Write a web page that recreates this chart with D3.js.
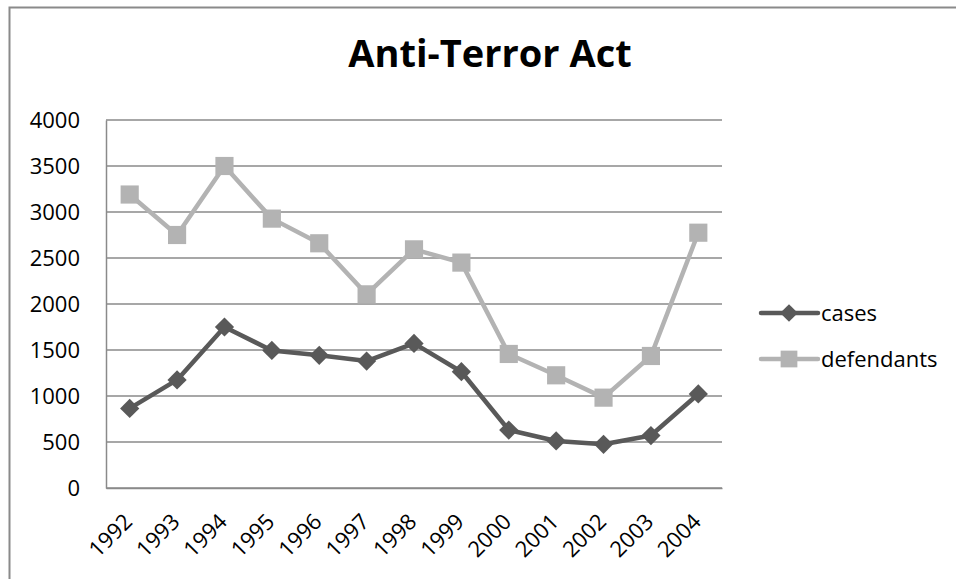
<!DOCTYPE html>
<html>
<head>
<meta charset="utf-8">
<script src="https://cdn.jsdelivr.net/npm/d3@7"></script>
<style>
  html, body { margin: 0; padding: 0; background: #fff; }
  svg { display: block; }
</style>
</head>
<body>
<svg id="chart" width="956" height="579"></svg>
<script>
const years = ["1992","1993","1994","1995","1996","1997","1998","1999","2000","2001","2002","2003","2004"];
const cases = [865, 1175, 1750, 1495, 1442, 1380, 1572, 1264, 630, 511, 475, 570, 1022];
const defendants = [3190, 2750, 3500, 2928, 2660, 2105, 2594, 2450, 1457, 1225, 982, 1435, 2775];
const yTicks = [0, 500, 1000, 1500, 2000, 2500, 3000, 3500, 4000];
const seriesNames = ["cases", "defendants"];
const titleText = "Anti-Terror Act";

const svg = d3.select("#chart");
const W = 956, H = 579;
const plot = {left: 106, right: 722, top: 120, bottom: 488};
const gridColor = "#8a8a8a";
const colors = {cases: "#595959", defendants: "#b3b3b3"};
const font = "'Open Sans', sans-serif";

// outer chart border
svg.append("rect")
  .attr("x", 9.5).attr("y", 7.5)
  .attr("width", W + 20).attr("height", H + 20)
  .attr("fill", "#fff")
  .attr("stroke", "#8a8a8a").attr("stroke-width", 2);

const x = d3.scaleBand().domain(years).range([plot.left, plot.right]).padding(0);
const y = d3.scaleLinear().domain([0, 4000]).range([plot.bottom, plot.top]);
const cx = d => x(d) + x.bandwidth() / 2;

// gridlines
svg.append("g").selectAll("line").data(yTicks).join("line")
  .attr("x1", plot.left).attr("x2", plot.right)
  .attr("y1", d => y(d)).attr("y2", d => y(d))
  .attr("stroke", gridColor).attr("stroke-width", 1.5);

// y axis
const yAxis = svg.append("g")
  .attr("transform", `translate(${plot.left},0)`)
  .call(d3.axisLeft(y).tickValues(yTicks).tickSize(0).tickPadding(26).tickFormat(d3.format("d")));
yAxis.select(".domain").attr("stroke", gridColor).attr("stroke-width", 1.5);
yAxis.selectAll("text").attr("font-family", font).attr("font-size", 22).attr("fill", "#000");

// x axis
const xAxis = svg.append("g")
  .attr("transform", `translate(0,${plot.bottom})`)
  .call(d3.axisBottom(x).tickSize(0).tickPadding(0));
xAxis.select(".domain").attr("stroke", gridColor).attr("stroke-width", 1.5);
xAxis.selectAll("text")
  .attr("font-family", font).attr("font-size", 22).attr("fill", "#000")
  .attr("text-anchor", "end")
  .attr("dy", 0)
  .attr("transform", "translate(4,35) rotate(-45)");
yAxis.raise();

// lines
const line = d3.line().x((d, i) => cx(years[i])).y(d => y(d));
const series = [
  {name: "cases", values: cases, symbol: d3.symbolSquare, size: 185, rot: 45},
  {name: "defendants", values: defendants, symbol: d3.symbolSquare, size: 330, rot: 0}
];
series.slice().reverse().forEach(s => {
  svg.append("path").datum(s.values)
    .attr("d", line)
    .attr("fill", "none")
    .attr("stroke", colors[s.name])
    .attr("stroke-width", 4.5)
    .attr("stroke-linejoin", "round");
  svg.append("g").selectAll("path").data(s.values).join("path")
    .attr("transform", (d, i) => `translate(${cx(years[i])},${y(d)}) rotate(${s.rot})`)
    .attr("d", d3.symbol().type(s.symbol).size(s.size))
    .attr("fill", colors[s.name]);
});

// title
svg.append("text")
  .attr("x", 490).attr("y", 67)
  .attr("text-anchor", "middle")
  .attr("font-family", font).attr("font-weight", "bold").attr("font-size", 38)
  .attr("fill", "#000")
  .text(titleText);

// legend
const legendY = [313, 359];
series.forEach((s, i) => {
  const g = svg.append("g").attr("transform", `translate(0,${legendY[i]})`);
  g.append("line").attr("x1", 761).attr("x2", 818).attr("y1", 0).attr("y2", 0)
    .attr("stroke", colors[s.name]).attr("stroke-width", 4.5).attr("stroke-linecap", "round");
  g.append("path").attr("transform", `translate(789,0) rotate(${s.rot})`)
    .attr("d", d3.symbol().type(s.symbol).size(s.size * 0.85))
    .attr("fill", colors[s.name]);
  g.append("text").attr("x", 821).attr("y", 0).attr("dy", "0.35em")
    .attr("font-family", font).attr("font-size", 22).attr("fill", "#000")
    .text(seriesNames[i]);
});
</script>
</body>
</html>
